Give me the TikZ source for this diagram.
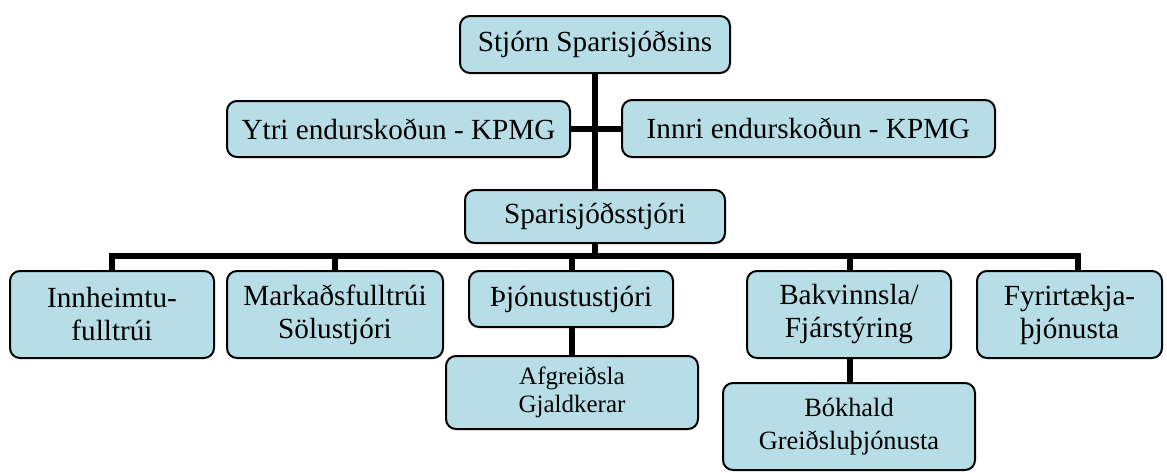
\documentclass[tikz,border=0pt]{standalone}
\usepackage{fontspec}
\setmainfont{Liberation Serif}
\definecolor{boxfill}{RGB}{183,222,230}
\begin{document}
\begin{tikzpicture}[x=0.5pt,y=-0.5pt,
  box/.style={draw=black, line width=1pt, fill=boxfill, rounded corners=5pt,
    align=center, inner sep=0pt, font=\fontsize{14.6}{16.5}\selectfont},
  conn/.style={draw=black, line width=3pt, miter limit=10}]
\useasboundingbox (0,0) rectangle (1167,472);

% connectors drawn first so the boxes cover their ends
\coordinate (busL) at (112,256);
\coordinate (busR) at (1078,256);
\coordinate (tj) at (595,44.5);
\coordinate (sj) at (595,216.5);

\draw[conn] (tj) -- (sj);
\draw[conn] (398,128.5) coordinate (yc) -- (808,128.5) coordinate (ic);
\draw[conn] (112,314.5) coordinate (ic1) -- (busL) -- (busR) -- (1078,314.5) coordinate (fc);
\draw[conn] (sj) -- (595,256);
\draw[conn] (335,256) -- (335,314.5) coordinate (mc);
\draw[conn] (572,256) -- (572,392.5) coordinate (ac);
\draw[conn] (850,256) -- (850,426.5) coordinate (bc);

% boxes
\node[box, minimum width=135pt, minimum height=28.5pt] (top) at (595,44.5) {Stjórn Sparisjóðsins};
\node[box, minimum width=171.5pt, minimum height=28pt] (ytri) at (398.5,129) {Ytri endurskoðun - KPMG};
\node[box, minimum width=186.5pt, minimum height=28.5pt] (innri) at (808.5,128.5) {Innri endurskoðun - KPMG};
\node[box, minimum width=130pt, minimum height=26.5pt] (spar) at (595,216.5) {Sparisjóðsstjóri};

\node[box, minimum width=102pt, minimum height=43.5pt] (inn) at (112,314.5) {Innheimtu-\\fulltrúi};
\node[box, minimum width=108pt, minimum height=43.5pt] (mark) at (335,314.5) {Markaðsfulltrúi\\Sölustjóri};
\node[box, minimum width=102pt, minimum height=28pt] (thj) at (571,299) {Þjónustustjóri};
\node[box, minimum width=126pt, minimum height=36.5pt, font=\fontsize{12.5}{14}\selectfont] (afg) at (572,392.5) {Afgreiðsla\\Gjaldkerar};
\node[box, minimum width=102pt, minimum height=43.5pt] (bak) at (849,314.5) {Bakvinnsla/\\Fjárstýring};
\node[box, minimum width=92.5pt, minimum height=43.5pt] (fyr) at (1069.5,314.5) {Fyrirtækja-\\þjónusta};
\node[box, minimum width=126pt, minimum height=43.5pt, font=\fontsize{13.2}{16.5}\selectfont] (bok) at (849,426.5) {Bókhald\\Greiðsluþjónusta};
\end{tikzpicture}
\end{document}
